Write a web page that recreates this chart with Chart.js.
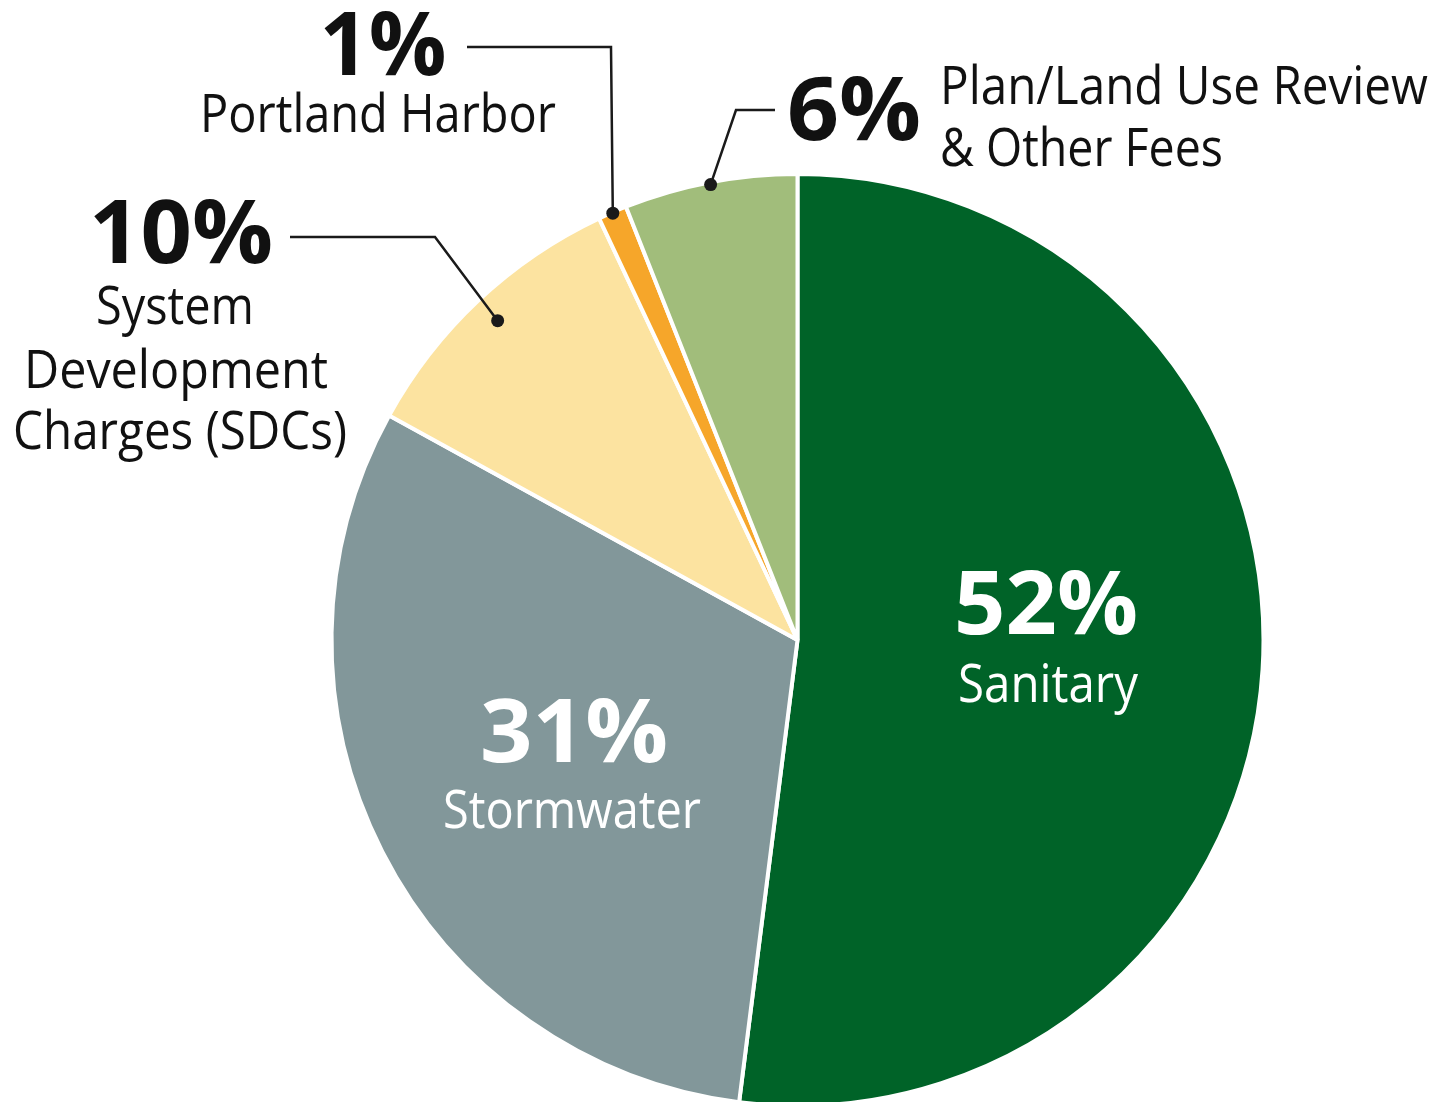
<!DOCTYPE html>
<html><head><meta charset="utf-8">
<script src="https://cdn.jsdelivr.net/npm/chart.js@4/dist/chart.umd.min.js"></script>
<style>html,body{margin:0;padding:0;background:#fff;overflow:hidden;} canvas{display:block;}</style>
</head><body>
<canvas id="c" width="1437" height="1120"></canvas>
<script>
// ---- data ----
const categories = ['Sanitary', 'Stormwater', 'System Development Charges (SDCs)', 'Portland Harbor', 'Plan/Land Use Review & Other Fees'];
const shares = [52, 31, 10, 1, 6];
const percentLabels = ['52%', '31%', '10%', '1%', '6%'];
const nameLines = [['Sanitary'], ['Stormwater'], ['System', 'Development', 'Charges (SDCs)'], ['Portland Harbor'], ['Plan/Land Use Review', '& Other Fees']];

// ---- styles / layout ----
const colors = ['#006328', '#82979a', '#fce3a0', '#f6a62a', '#a1bd7b'];
const FONT = "'Open Sans', 'Noto Sans', sans-serif";
const layout = [
  { color: '#ffffff', pct: { x: 1046, y: 634, w: 184, align: 'center' },
    names: [{ x: 1048, y: 702, w: 180, align: 'center' }] },
  { color: '#ffffff', pct: { x: 574, y: 762, w: 188, align: 'center' },
    names: [{ x: 572, y: 828, w: 258, align: 'center' }] },
  { color: '#111111', pct: { x: 181, y: 263, w: 184, align: 'center' },
    names: [{ x: 175, y: 324, w: 158, align: 'center' }, { x: 176, y: 388, w: 304, align: 'center' }, { x: 180, y: 449, w: 334, align: 'center' }],
    leader: { r: 0.94, path: [[290, 237], [435, 237]] } },
  { color: '#111111', pct: { x: 383, y: 75, w: 127, align: 'center' },
    names: [{ x: 378, y: 132, w: 356, align: 'center' }],
    leader: { r: 0.998, path: [[467, 47], [611, 47]] } },
  { color: '#111111', pct: { x: 787, y: 140, w: 134, align: 'left' },
    names: [{ x: 940, y: 104, w: 488, align: 'left' }, { x: 940, y: 166, w: 283, align: 'left' }],
    leader: { r: 0.995, path: [[775, 110], [736, 110]] } }
];

function drawFit(ctx, text, x, y, w, font, align, color) {
  ctx.save();
  ctx.font = font;
  const m = ctx.measureText(text).width;
  const s = w / m;
  ctx.translate(x, y);
  ctx.scale(s, 1);
  ctx.textAlign = align;
  ctx.textBaseline = 'alphabetic';
  ctx.fillStyle = color;
  ctx.fillText(text, 0, 0);
  ctx.restore();
}

const labelPlugin = {
  id: 'labels',
  afterDraw(chart) {
    const ctx = chart.ctx;
    const arcs = chart.getDatasetMeta(0).data;
    layout.forEach((L, i) => {
      const a = arcs[i];
      if (L.leader) {
        const mid = (a.startAngle + a.endAngle) / 2;
        const r = a.outerRadius * L.leader.r;
        const dx = a.x + r * Math.cos(mid);
        const dy = a.y + r * Math.sin(mid);
        ctx.save();
        ctx.strokeStyle = '#1a1a1a';
        ctx.lineWidth = 2.5;
        ctx.beginPath();
        L.leader.path.forEach((p, k) => k ? ctx.lineTo(p[0], p[1]) : ctx.moveTo(p[0], p[1]));
        ctx.lineTo(dx, dy);
        ctx.stroke();
        ctx.fillStyle = '#1a1a1a';
        ctx.beginPath();
        ctx.arc(dx, dy, 6.5, 0, Math.PI * 2);
        ctx.fill();
        ctx.restore();
      }
      drawFit(ctx, percentLabels[i], L.pct.x, L.pct.y, L.pct.w, `bold 88px ${FONT}`, L.pct.align, L.color);
      nameLines[i].forEach((t, k) => {
        const n = L.names[k];
        drawFit(ctx, t, n.x, n.y, n.w, `500 53px ${FONT}`, n.align, L.color);
      });
    });
  }
};

new Chart(document.getElementById('c'), {
  type: 'pie',
  data: {
    labels: categories,
    datasets: [{
      data: shares,
      backgroundColor: colors,
      borderColor: '#ffffff',
      borderWidth: 4,
      hoverOffset: 0
    }]
  },
  options: {
    responsive: false,
    animation: false,
    events: [],
    radius: 466,
    layout: { padding: { left: 331.5, right: 173.5, top: 174, bottom: 14 } },
    plugins: { legend: { display: false }, tooltip: { enabled: false } }
  },
  plugins: [labelPlugin]
});
</script>
</body></html>
